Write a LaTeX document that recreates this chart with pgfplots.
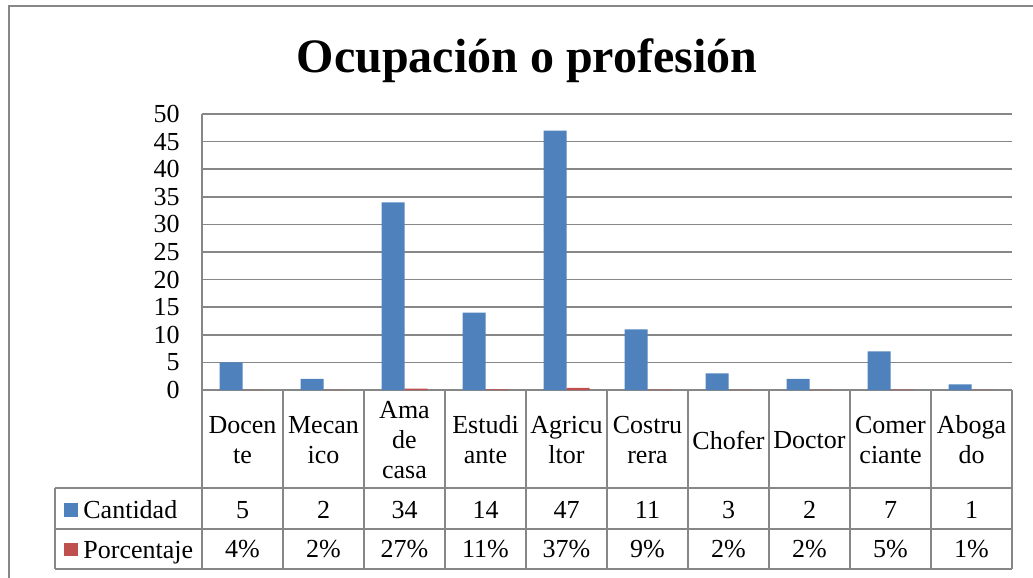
\documentclass[border=0pt]{standalone}
\usepackage{pgfplots}
\pgfplotsset{compat=1.18}
\usepackage{pgfplotstable}
\usepackage{fontspec}
\setmainfont{Liberation Serif}

\definecolor{cantblue}{HTML}{4F81BD}
\definecolor{pctred}{HTML}{C0504D}
\definecolor{gridgray}{HTML}{878787}

% x = category index, cant = Cantidad, pct = Porcentaje (%)
\pgfplotstableread{
x cant pct
0 5  4
1 2  2
2 34 27
3 14 11
4 47 37
5 11 9
6 3  2
7 2  2
8 7  5
9 1  1
}\datos

\begin{document}
\begin{tikzpicture}
\fontsize{13}{15}\selectfont
\path[use as bounding box] (0,0) rectangle (516.5pt,-289pt);
% chart frame (cut off at right and bottom)
\draw[gridgray, line width=1pt] (4.5pt,-300pt) -- (4.5pt,-3pt) -- (530pt,-3pt);
\node[anchor=base, font=\fontsize{24}{28}\selectfont\bfseries] at (263.5pt,-36pt) {Ocupación o profesión};

\begin{axis}[
  at={(101pt,-195pt)}, anchor=south west,
  scale only axis, width=405pt, height=138pt,
  xmin=-0.5, xmax=9.5, ymin=0, ymax=50,
  ytick={0,5,...,50}, xtick={0,...,9},
  xticklabels={Docen\\te, Mecan\\ico, Ama\\de\\casa, Estudi\\ante, Agricu\\ltor,
               Costru\\rera, Chofer, Doctor, Comer\\ciante, Aboga\\do},
  xticklabel style={align=center, anchor=center, yshift=-25pt, inner sep=0pt,
                    font=\fontsize{13}{15}\selectfont},
  yticklabel style={anchor=east, inner sep=0pt, xshift=-11pt,
                    font=\fontsize{13}{15}\selectfont},
  /pgf/number format/assume math mode=true,
  axis lines*=left,
  axis line style={gridgray, line width=0.75pt},
  major tick length=0pt,
  ymajorgrids, grid style={gridgray, line width=0.75pt},
  ybar=0pt, bar width=11.5pt,
  clip=false,
]
\addplot[fill=cantblue, draw=none] table[x=x, y=cant] {\datos};
\addplot[fill=pctred, draw=none] table[x=x, y expr=\thisrow{pct}/100] {\datos};
% data table values
\pgfplotsinvokeforeach{0,...,9}{
  \pgfplotstablegetelem{#1}{cant}\of\datos
  \edef\tmp{\noexpand\node[anchor=base, inner sep=0pt] at (axis cs:#1,-23.2) {\pgfplotsretval};}\tmp
  \pgfplotstablegetelem{#1}{pct}\of\datos
  \edef\tmp{\noexpand\node[anchor=base, inner sep=0pt] at (axis cs:#1,-30.4) {\pgfplotsretval\noexpand\%};}\tmp
}
\end{axis}

% data table grid
\begin{scope}[gridgray, line width=0.75pt]
\foreach \k in {0,...,10} {
  \draw ({101pt+40.5pt*\k},-195pt) -- ({101pt+40.5pt*\k},-284.5pt);
}
\draw (27.5pt,-244pt) -- (506pt,-244pt);
\draw (27.5pt,-264.5pt) -- (506pt,-264.5pt);
\draw (27.5pt,-284.5pt) -- (506pt,-284.5pt);
\draw (27.5pt,-244pt) -- (27.5pt,-284.5pt);
\end{scope}
% legend keys
\fill[cantblue] (32pt,-251.5pt) rectangle (39pt,-258.5pt);
\fill[pctred] (32pt,-271.5pt) rectangle (39pt,-278pt);
\node[anchor=base west, inner sep=0pt] at (41.5pt,-259pt) {Cantidad};
\node[anchor=base west, inner sep=0pt] at (41.5pt,-279pt) {Porcentaje};
\end{tikzpicture}
\end{document}
